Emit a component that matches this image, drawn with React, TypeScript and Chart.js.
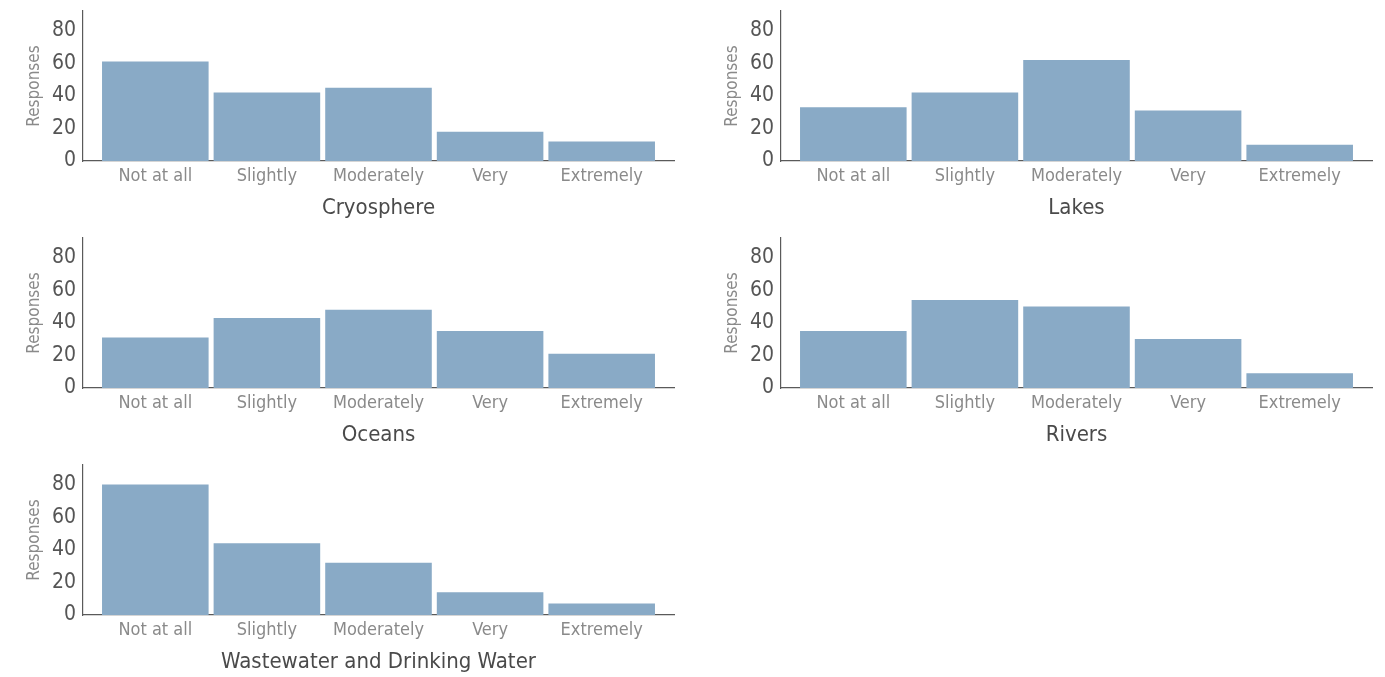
import React, { useEffect, useRef } from "react";
import { Chart, registerables } from "chart.js";

Chart.register(...registerables);

const categories = ["Not at all", "Slightly", "Moderately", "Very", "Extremely"];
const yTickValues = [0, 20, 40, 60, 80];

const cryosphere = [61, 42, 45, 18, 12];
const lakes = [33, 42, 62, 31, 10];
const oceans = [31, 43, 48, 35, 21];
const rivers = [35, 54, 50, 30, 9];
const wastewater = [80, 44, 32, 14, 7];

const panelTitles = ["Cryosphere", "Lakes", "Oceans", "Rivers", "Wastewater and Drinking Water"];
const panelValues = [cryosphere, lakes, oceans, rivers, wastewater];

const FONT = "'DejaVu Sans Condensed', 'Liberation Sans Narrow', 'DejaVu Sans', sans-serif";
const BAR_COLOR = "#89aac6";

type PanelProps = { title: string; values: number[]; left: number; top: number; width: number; padRight: number };

function Panel({ title, values, left, top, width, padRight }: PanelProps) {
  const ref = useRef<HTMLCanvasElement | null>(null);
  useEffect(() => {
    if (!ref.current) return;
    const chart = new Chart(ref.current, {
      type: "bar",
      data: {
        datasets: [
          {
            data: values.map((v, i) => ({ x: i, y: v })),
            backgroundColor: BAR_COLOR,
            borderWidth: 0,
            categoryPercentage: 1,
            barPercentage: 0.955,
          },
        ],
      },
      options: {
        responsive: false,
        animation: false,
        devicePixelRatio: 1,
        layout: { padding: { top: 11, right: padRight, left: 0, bottom: 0 } },
        plugins: { legend: { display: false }, tooltip: { enabled: false }, title: { display: false } },
        scales: {
          x: {
            type: "linear",
            offset: false,
            min: -0.648,
            max: categories.length - 1 + 0.648,
            afterBuildTicks: (axis: any) => {
              axis.ticks = categories.map((_, i) => ({ value: i }));
            },
            afterFit: (scale: any) => {
              scale.height = 61;
              scale.paddingLeft = 0;
              scale.paddingRight = 0;
            },
            grid: { display: false, drawTicks: false, offset: false },
            border: { display: true, color: "#5a5a5a", width: 1.2 },
            ticks: {
              padding: 5,
              maxRotation: 0,
              autoSkip: false,
              color: "#8a8a8a",
              font: { family: FONT, size: 18 },
              callback: (v: any) => categories[Math.round(Number(v))] ?? "",
            },
            title: {
              display: true,
              text: title,
              color: "#4a4a4a",
              font: { family: FONT, size: 22 },
              padding: { top: 0, bottom: 1 },
            },
          },
          y: {
            type: "linear",
            min: 0,
            max: 92,
            afterBuildTicks: (axis: any) => {
              axis.ticks = yTickValues.map((v) => ({ value: v }));
            },
            afterFit: (scale: any) => {
              scale.width = 83;
              scale.paddingTop = 0;
              scale.paddingBottom = 0;
            },
            grid: { display: false, drawTicks: false },
            border: { display: true, color: "#5a5a5a", width: 1.2 },
            ticks: {
              padding: 7,
              color: "#555555",
              font: { family: FONT, size: 21 },
            },
            title: {
              display: true,
              text: "Responses",
              color: "#8a8a8a",
              font: { family: FONT, size: 17 },
              padding: { top: 24, bottom: 0 },
            },
          },
        },
      } as any,
    });
    return () => chart.destroy();
  }, [title, values, padRight]);
  return (
    <canvas
      ref={ref}
      width={width}
      height={222}
      style={{ position: "absolute", left, top, width, height: 222, display: "block" }}
    />
  );
}

export default function App() {
  const layout = [
    { left: 0, top: 0, width: 692, padRight: 18 },
    { left: 698, top: 0, width: 687, padRight: 13 },
    { left: 0, top: 227, width: 692, padRight: 18 },
    { left: 698, top: 227, width: 687, padRight: 13 },
    { left: 0, top: 454, width: 692, padRight: 18 },
  ];
  return (
    <div style={{ position: "fixed", left: 0, top: 0, width: 1385, height: 677, background: "#ffffff", overflow: "hidden" }}>
      {panelTitles.map((t, i) => (
        <Panel key={t} title={t} values={panelValues[i]} {...layout[i]} />
      ))}
    </div>
  );
}
